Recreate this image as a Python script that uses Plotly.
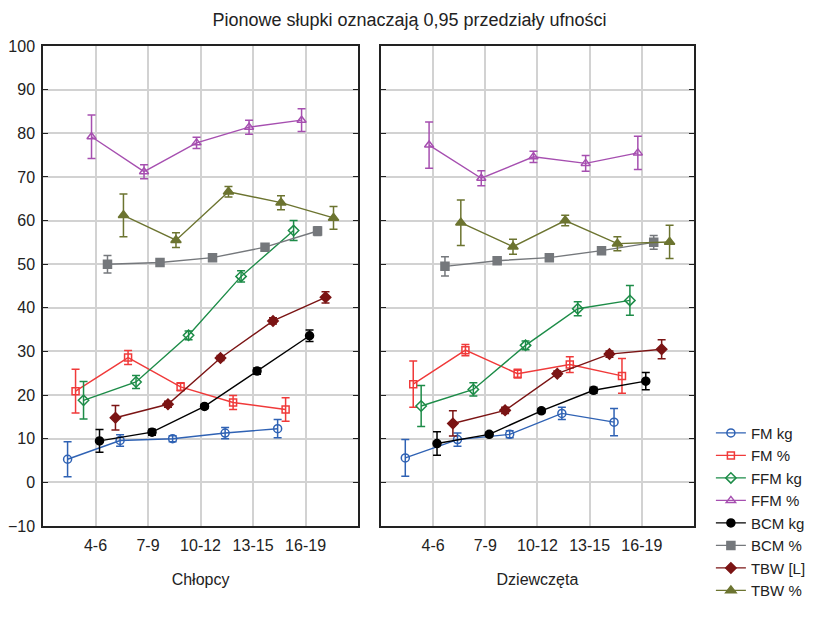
import plotly.graph_objects as go

categories = ["4-6", "7-9", "10-12", "13-15", "16-19"]
series_names = ["FM kg", "FM %", "FFM kg", "FFM %", "BCM kg", "BCM %", "TBW [L]", "TBW %"]

# Chłopcy (boys)
boys_fm_kg = [5.3, 9.6, 10.0, 11.3, 12.3]
boys_fm_kg_err = [4.0, 1.3, 0.7, 1.3, 2.1]
boys_fm_pct = [20.9, 28.6, 21.9, 18.3, 16.7]
boys_fm_pct_err = [5.0, 1.6, 0.9, 1.6, 2.7]
boys_ffm_kg = [18.8, 23.0, 33.7, 47.2, 57.7]
boys_ffm_kg_err = [4.3, 1.5, 1.0, 1.3, 2.3]
boys_ffm_pct = [79.2, 71.2, 77.8, 81.4, 83.0]
boys_ffm_pct_err = [5.0, 1.6, 1.3, 1.6, 2.6]
boys_bcm_kg = [9.5, 11.5, 17.4, 25.5, 33.6]
boys_bcm_kg_err = [2.6, 0.7, 0.5, 0.7, 1.3]
boys_bcm_pct = [50.0, 50.4, 51.5, 53.9, 57.6]
boys_bcm_pct_err = [2.0, 0.5, 0.5, 0.6, 1.0]
boys_tbw_l = [14.8, 17.9, 28.5, 37.0, 42.4]
boys_tbw_l_err = [2.8, 0.7, 0.6, 0.7, 1.3]
boys_tbw_pct = [61.2, 55.5, 66.6, 64.1, 60.6]
boys_tbw_pct_err = [4.9, 1.7, 1.2, 1.6, 2.6]

# Dziewczęta (girls)
girls_fm_kg = [5.6, 9.8, 11.0, 15.8, 13.8]
girls_fm_kg_err = [4.2, 1.5, 0.8, 1.4, 3.1]
girls_fm_pct = [22.5, 30.3, 24.9, 27.0, 24.4]
girls_fm_pct_err = [5.3, 1.3, 1.0, 1.8, 4.0]
girls_ffm_kg = [17.5, 21.3, 31.4, 39.8, 41.7]
girls_ffm_kg_err = [4.7, 1.5, 1.0, 1.6, 3.4]
girls_ffm_pct = [77.3, 69.7, 74.6, 73.1, 75.5]
girls_ffm_pct_err = [5.3, 1.7, 1.3, 1.8, 3.8]
girls_bcm_kg = [8.9, 11.0, 16.4, 21.1, 23.2]
girls_bcm_kg_err = [2.7, 0.5, 0.5, 0.7, 2.0]
girls_bcm_pct = [49.5, 50.8, 51.5, 53.1, 55.0]
girls_bcm_pct_err = [2.2, 0.5, 0.5, 0.5, 1.6]
girls_tbw_l = [13.5, 16.5, 24.9, 29.4, 30.5]
girls_tbw_l_err = [2.9, 0.7, 0.6, 0.7, 2.2]
girls_tbw_pct = [59.5, 54.0, 60.0, 54.7, 55.1]
girls_tbw_pct_err = [5.2, 1.7, 1.2, 1.6, 3.8]

boys = [(boys_fm_kg, boys_fm_kg_err), (boys_fm_pct, boys_fm_pct_err),
        (boys_ffm_kg, boys_ffm_kg_err), (boys_ffm_pct, boys_ffm_pct_err),
        (boys_bcm_kg, boys_bcm_kg_err), (boys_bcm_pct, boys_bcm_pct_err),
        (boys_tbw_l, boys_tbw_l_err), (boys_tbw_pct, boys_tbw_pct_err)]
girls = [(girls_fm_kg, girls_fm_kg_err), (girls_fm_pct, girls_fm_pct_err),
         (girls_ffm_kg, girls_ffm_kg_err), (girls_ffm_pct, girls_ffm_pct_err),
         (girls_bcm_kg, girls_bcm_kg_err), (girls_bcm_pct, girls_bcm_pct_err),
         (girls_tbw_l, girls_tbw_l_err), (girls_tbw_pct, girls_tbw_pct_err)]

colors = ["#2f62b4", "#f03a3a", "#1d8c48", "#a64fb0", "#000000", "#75787c", "#7b1414", "#6c7430"]
symbols = ["circle-open", "square-open", "diamond-open", "triangle-up-open",
           "circle", "square", "diamond", "triangle-up"]
sizes = [8, 7, 8, 8, 8, 8, 8, 9]

fig = go.Figure()
step = 0.152
for panel, data in enumerate([boys, girls]):
    xa = "x" if panel == 0 else "x2"
    ya = "y" if panel == 0 else "y2"
    for i, (vals, errs) in enumerate(data):
        off = (i - 3.5) * step
        xs = [k + 1 + off for k in range(len(categories))]
        fig.add_trace(go.Scatter(
            x=xs, y=vals, xaxis=xa, yaxis=ya,
            mode="lines+markers", name=series_names[i],
            showlegend=(panel == 0), legendgroup=series_names[i],
            line=dict(color=colors[i], width=1.4),
            marker=dict(symbol=symbols[i], size=sizes[i], color=colors[i],
                        line=dict(color=colors[i], width=1.5)),
            error_y=dict(type="data", array=errs, visible=True,
                         color=colors[i], thickness=1.5, width=4),
        ))

axis_common = dict(range=[0, 6], tickvals=[1, 2, 3, 4, 5], ticktext=categories,
                   showgrid=True, gridcolor="#d2d2d2", gridwidth=1.5,
                   showline=True, linecolor="#222222", linewidth=1.5, mirror=True,
                   ticks="", zeroline=False, ticklabelstandoff=4, automargin=False,
                   tickfont=dict(size=16, color="#222222"))
yaxis_common = dict(range=[-10, 100], dtick=10, tick0=0,
                    showgrid=True, gridcolor="#d2d2d2", gridwidth=1.5,
                    showline=True, linecolor="#222222", linewidth=1.5, mirror="ticks",
                    ticks="inside", ticklen=5, tickcolor="#222222", zeroline=False,
                    automargin=False, ticklabelstandoff=3,
                    tickfont=dict(size=16, color="#222222"))

fig.update_layout(
    width=819, height=620,
    margin=dict(l=43, r=125, t=46, b=94),
    paper_bgcolor="white", plot_bgcolor="white",
    font=dict(family="Liberation Sans, Arial, sans-serif", size=16, color="#222222"),
    title=dict(text="Pionowe słupki oznaczają 0,95 przedziały ufności",
               x=0.5, xanchor="center", y=0.969, yanchor="middle",
               font=dict(size=18, color="#222222")),
    xaxis=dict(domain=[0, 0.484], anchor="y",
               title=dict(text="Chłopcy", font=dict(size=16), standoff=21), **axis_common),
    xaxis2=dict(domain=[0.519, 1], anchor="y2",
                title=dict(text="Dziewczęta", font=dict(size=16), standoff=21), **axis_common),
    yaxis=dict(domain=[0, 1], anchor="x", **yaxis_common),
    yaxis2=dict(domain=[0, 1], anchor="x2", showticklabels=False, **yaxis_common),
    legend=dict(xref="container", yref="container", x=0.868, y=0.328,
                xanchor="left", yanchor="top",
                font=dict(size=15, color="#222222"), tracegroupgap=0,
                itemwidth=30, bgcolor="rgba(0,0,0,0)"),
)

fig.write_html("out.html")
